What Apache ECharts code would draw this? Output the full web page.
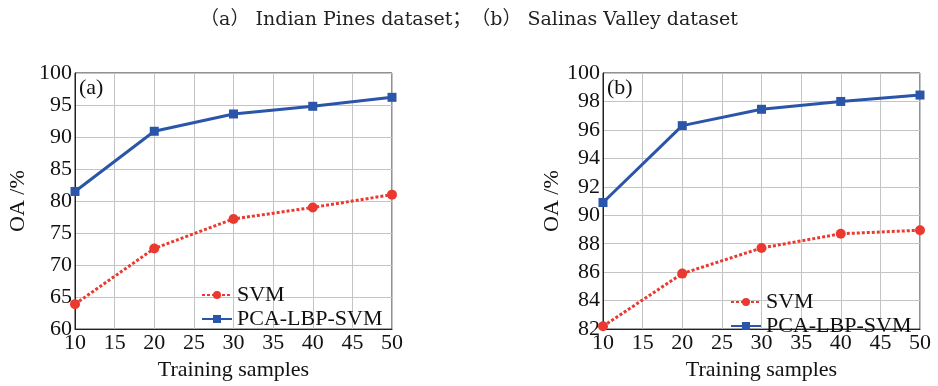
<!DOCTYPE html>
<html><head><meta charset="utf-8">
<script src="https://cdn.jsdelivr.net/npm/echarts@6/dist/echarts.min.js"></script>
<style>html,body{margin:0;padding:0;background:#fff}#c{width:938px;height:386px}</style>
</head><body><div id="c"></div>
<script>
const samples = [10, 20, 30, 40, 50];
const svmA = [63.9, 72.6, 77.2, 79.0, 81.0];
const pcaA = [81.5, 90.9, 93.6, 94.8, 96.2];
const svmB = [82.2, 85.9, 87.7, 88.7, 88.95];
const pcaB = [90.9, 96.3, 97.45, 98.0, 98.45];
const seriesNames = ['SVM', 'PCA-LBP-SVM'];
const titleText = '（a） Indian Pines dataset；（b） Salinas Valley dataset';
const panelLabels = ['(a)', '(b)'];
const xName = 'Training samples';
const yName = 'OA /%';

const FONT = '"Liberation Serif", "Noto Sans CJK SC", serif';
const TFONT = '"DejaVu Serif", "Noto Sans CJK SC", serif';
const RED = '#ea3a30';
const BLUE = '#2a55a8';
const txt = {fontFamily: FONT, fontSize: 22, color: '#111'};

function xAxis(gi) {
  return {
    type: 'value', gridIndex: gi, min: 10, max: 50, interval: 5,
    name: xName, nameLocation: 'middle', nameGap: 24, nameTextStyle: txt,
    axisLine: {lineStyle: {color: '#222'}},
    axisTick: {show: false},
    axisLabel: Object.assign({margin: 3}, txt),
    splitLine: {show: true, lineStyle: {color: '#c4c4c4', width: 1}}
  };
}
function yAxis(gi, min, max, interval, gap) {
  return {
    type: 'value', gridIndex: gi, min: min, max: max, interval: interval,
    name: yName, nameLocation: 'middle', nameGap: gap, nameTextStyle: txt,
    axisLine: {lineStyle: {color: '#222'}},
    axisTick: {show: false},
    axisLabel: Object.assign({margin: 3}, txt),
    splitLine: {show: true, lineStyle: {color: '#c4c4c4', width: 1}}
  };
}
function pairs(vals) { return samples.map((s, i) => [s, vals[i]]); }
function svmSeries(gi, vals) {
  return {
    name: seriesNames[0], type: 'line', xAxisIndex: gi, yAxisIndex: gi,
    data: pairs(vals), symbol: 'circle', symbolSize: 10,
    lineStyle: {color: RED, width: 3, type: [3, 2]},
    itemStyle: {color: RED}, animation: false
  };
}
function pcaSeries(gi, vals) {
  return {
    name: seriesNames[1], type: 'line', xAxisIndex: gi, yAxisIndex: gi,
    data: pairs(vals), symbol: 'rect', symbolSize: 9,
    lineStyle: {color: BLUE, width: 3},
    itemStyle: {color: BLUE}, animation: false
  };
}
function legend(left, top) {
  return {
    left: left, top: top, orient: 'vertical', itemWidth: 30, itemHeight: 10,
    itemGap: 2, data: seriesNames, selectedMode: false, textStyle: txt, padding: 0
  };
}

const chart = echarts.init(document.getElementById('c'), null, {renderer: 'canvas'});
chart.setOption({
  backgroundColor: '#fff',
  animation: false,
  title: {text: titleText, left: 'center', top: 6,
    textStyle: {fontFamily: TFONT, fontSize: 19, fontWeight: 'normal', color: '#222'}},
  grid: [
    {left: 75, top: 73, width: 317, height: 268, show: true, borderColor: '#222', borderWidth: 1, backgroundColor: 'transparent'},
    {left: 603, top: 73, width: 317, height: 266, show: true, borderColor: '#222', borderWidth: 1, backgroundColor: 'transparent'}
  ],
  xAxis: [xAxis(0), xAxis(1)],
  yAxis: [yAxis(0, 60, 100, 5, 46), yAxis(1, 82, 100, 2, 40)],
  legend: [legend(201, 284), legend(730, 291)],
  series: [svmSeries(0, svmA), pcaSeries(0, pcaA), svmSeries(1, svmB), pcaSeries(1, pcaB)],
  graphic: [
    {type: 'text', left: 79, top: 77, style: {text: panelLabels[0], fill: '#111', font: '22px ' + FONT}},
    {type: 'text', left: 607, top: 77, style: {text: panelLabels[1], fill: '#111', font: '22px ' + FONT}}
  ]
});
</script></body></html>
